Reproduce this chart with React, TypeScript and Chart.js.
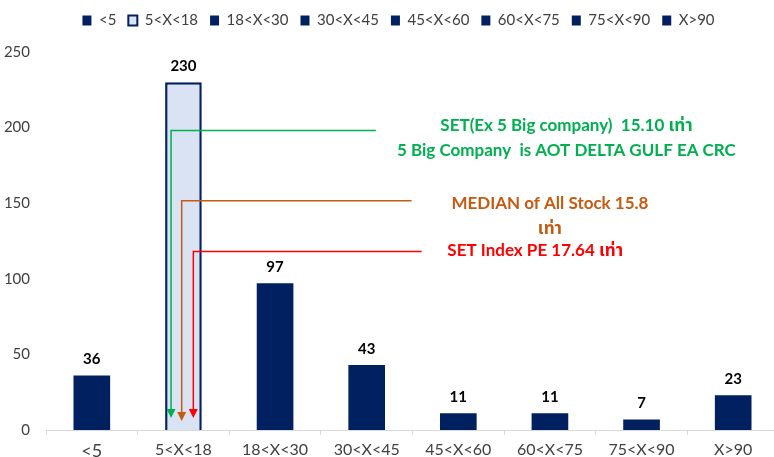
import React, { useEffect, useRef } from "react";
import { Chart, registerables } from "chart.js";

Chart.register(...registerables);

// ---- data ----
const categories = ["<5", "5<X<18", "18<X<30", "30<X<45", "45<X<60", "60<X<75", "75<X<90", "X>90"];
const stockCounts = [36, 230, 97, 43, 11, 11, 7, 23];
const yTickValues = [0, 50, 100, 150, 200, 250];
const highlightIndex = 1;

const noteTexts: string[][] = [
  ["SET(Ex 5 Big company)  15.10 เท่า", "5 Big Company  is AOT DELTA GULF EA CRC"],
  ["MEDIAN of All Stock 15.8", "เท่า"],
  ["SET Index PE 17.64 เท่า"],
];

// ---- styles / layout (in scale units) ----
const NAVY = "#002060";
const HIGHLIGHT_FILL = "#DAE3F3";
const FONT = "Lato, Carlito, Calibri, 'Noto Sans Thai', Tahoma, 'DejaVu Sans', sans-serif";
const noteStyles = [
  { color: "#00B050", xOffset: -0.135, level: 198, lineEnd: 3.1, tip: 8, textIndex: 5.18, textValues: [201.5, 185], align: "center" as CanvasTextAlign },
  { color: "#C55A11", xOffset: -0.019, level: 151.6, lineEnd: 3.49, tip: 6, textIndex: 5.0, textValues: [150, 133.5], align: "center" as CanvasTextAlign },
  { color: "#FF0000", xOffset: 0.108, level: 118, lineEnd: 3.6, tip: 8, textIndex: 3.88, textValues: [119], align: "left" as CanvasTextAlign },
];

const dataLabelPlugin = {
  id: "dataLabels",
  afterDatasetsDraw(chart: any) {
    const ctx = chart.ctx;
    const meta = chart.getDatasetMeta(0);
    ctx.save();
    ctx.font = `bold 15px ${FONT}`;
    ctx.fillStyle = "#000000";
    ctx.textAlign = "center";
    ctx.textBaseline = "middle";
    meta.data.forEach((bar: any, i: number) => {
      ctx.fillText(String(stockCounts[i]), bar.x, bar.y - 16);
    });
    ctx.restore();
  },
};

const notePlugin = {
  id: "peNotes",
  afterDatasetsDraw(chart: any) {
    const ctx = chart.ctx;
    const x = chart.scales.x;
    const y = chart.scales.y;
    const catW = x.getPixelForValue(1) - x.getPixelForValue(0);
    const idxToPx = (v: number) => x.getPixelForValue(0) + v * catW;
    ctx.save();
    noteStyles.forEach((s, i) => {
      const px = idxToPx(highlightIndex + s.xOffset);
      const py = y.getPixelForValue(s.level);
      const endX = idxToPx(s.lineEnd);
      const tipY = y.getPixelForValue(s.tip);
      const head = 9;
      ctx.strokeStyle = s.color;
      ctx.fillStyle = s.color;
      ctx.lineWidth = 1.5;
      ctx.beginPath();
      ctx.moveTo(endX, py);
      ctx.lineTo(px, py);
      ctx.lineTo(px, tipY - head + 1);
      ctx.stroke();
      ctx.beginPath();
      ctx.moveTo(px - 4.5, tipY - head);
      ctx.lineTo(px + 4.5, tipY - head);
      ctx.lineTo(px, tipY);
      ctx.closePath();
      ctx.fill();
      ctx.font = `bold 17px ${FONT}`;
      ctx.textAlign = s.align;
      ctx.textBaseline = "middle";
      const tx = idxToPx(s.textIndex);
      noteTexts[i].forEach((line, j) => {
        ctx.fillText(line, tx, y.getPixelForValue(s.textValues[j]));
      });
    });
    ctx.restore();
  },
};

const legendSizePlugin = {
  id: "legendSize",
  beforeInit(chart: any) {
    const legend = chart.legend;
    if (legend) {
      const origFit = legend.fit;
      legend.fit = function () {
        origFit.call(this);
        this.height = 52;
      };
    }
  },
  afterLayout(chart: any) {
    const legend = chart.legend;
    if (legend) {
      legend.left += 9;
      legend.right += 9;
      legend.top += 1;
      legend.bottom += 1;
    }
  },
};

export default function App() {
  const canvasRef = useRef<HTMLCanvasElement | null>(null);

  useEffect(() => {
    if (!canvasRef.current) return;
    const chart = new Chart(canvasRef.current, {
      type: "bar",
      data: {
        labels: categories,
        datasets: [
          {
            label: "Stocks",
            data: stockCounts,
            backgroundColor: categories.map((_, i) => (i === highlightIndex ? HIGHLIGHT_FILL : NAVY)),
            borderColor: NAVY,
            borderWidth: categories.map((_, i) => (i === highlightIndex ? 2.5 : 0)),
            barPercentage: 0.4,
            categoryPercentage: 1,
          },
        ],
      },
      options: {
        responsive: false,
        animation: false,
        layout: { padding: { top: 0, right: 21, bottom: 0, left: 0 } },
        plugins: {
          tooltip: { enabled: false },
          legend: {
            display: true,
            position: "top",
            labels: {
              boxWidth: 9,
              boxHeight: 10,
              padding: 12,
              color: "#404040",
              font: { family: FONT, size: 15 },
              generateLabels: () =>
                categories.map((c, i) => ({
                  text: c,
                  fillStyle: i === highlightIndex ? HIGHLIGHT_FILL : NAVY,
                  strokeStyle: NAVY,
                  lineWidth: i === highlightIndex ? 2 : 0,
                  hidden: false,
                  index: i,
                  datasetIndex: 0,
                  fontColor: "#404040",
                })),
            },
          },
        },
        scales: {
          x: {
            grid: { display: true, drawOnChartArea: false, drawTicks: true, tickLength: 5, color: "#D9D9D9", offset: true },
            border: { display: true, color: "#D9D9D9", width: 1 },
            ticks: {
              color: "#404040",
              font: (c: any) => ({ family: FONT, size: c.index === 0 ? 18 : 16 }),
              padding: 5,
              maxRotation: 0,
              autoSkip: false,
            },
            afterFit: (scale: any) => {
              scale.height = 27;
            },
          },
          y: {
            min: 0,
            max: 250,
            grid: { display: false, drawTicks: false },
            border: { display: false },
            afterBuildTicks: (scale: any) => {
              scale.ticks = yTickValues.map((v) => ({ value: v }));
            },
            ticks: { color: "#404040", font: { family: FONT, size: 15 }, padding: 16 },
            afterFit: (scale: any) => {
              scale.width = 46;
            },
          },
        },
      },
      plugins: [legendSizePlugin, dataLabelPlugin, notePlugin],
    });
    return () => chart.destroy();
  }, []);

  return (
    <div style={{ position: "absolute", left: 0, top: 0, width: 774, height: 457, overflow: "hidden", background: "#ffffff" }}>
      <canvas ref={canvasRef} width={800} height={457} style={{ display: "block" }} />
    </div>
  );
}
